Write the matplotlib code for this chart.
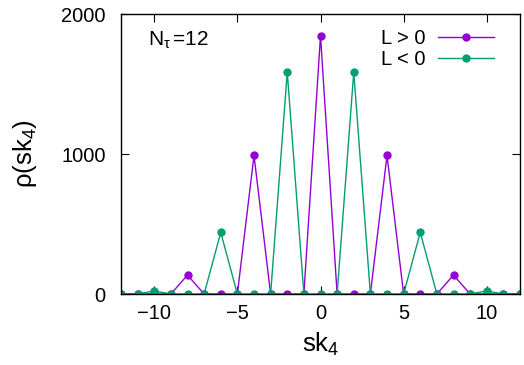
import matplotlib
matplotlib.use('Agg')
import matplotlib.pyplot as plt

plt.rcParams['font.family'] = ['Liberation Sans', 'DejaVu Sans']
plt.rcParams['mathtext.fontset'] = 'custom'
plt.rcParams['mathtext.rm'] = 'Liberation Sans'
plt.rcParams['mathtext.it'] = 'Liberation Sans'

# sk_4 bins and histogram counts for both signs of L
sk4 = list(range(-12, 13))
rho_pos = [0, 0, 0, 0, 135, 0, 0, 0, 990, 0, 0, 0, 1845,
           0, 0, 0, 990, 0, 0, 0, 135, 0, 0, 0, 0]
rho_neg = [0, 0, 22, 0, 0, 0, 440, 0, 0, 0, 1585, 0, 0,
           0, 1585, 0, 0, 0, 440, 0, 0, 0, 22, 0, 0]

purple = '#9400d3'
green = '#009e73'

fig = plt.figure(figsize=(5.24, 3.65), dpi=100)
ax = fig.add_axes([121 / 524, 1 - 294 / 365, 399 / 524, 280 / 365])

ax.plot(sk4, rho_pos, color=purple, lw=1, marker='o', ms=5, label='L > 0')
ax.plot(sk4, rho_neg, color=green, lw=1, marker='o', ms=5, label='L < 0')

ax.set_xlim(-12, 12)
ax.set_ylim(0, 2000)
ax.set_xticks([-10, -5, 0, 5, 10])
ax.set_yticks([0, 1000, 2000])
ax.tick_params(direction='in', top=True, right=True, labelsize=14.5, length=6)
ax.tick_params(axis='x', pad=7.5)
ax.tick_params(axis='y', pad=11)
for s in ax.spines.values():
    s.set_linewidth(1)

ax.set_xlabel(r'sk$_4$', fontsize=18.5, labelpad=5)
ax.set_ylabel(r'ρ(sk$_4$)', fontsize=18.5, labelpad=16)

ax.text(148 / 524, 1 - 40 / 365, r'N$_\tau\,$=12', transform=fig.transFigure,
        fontsize=15, ha='left', va='center')

leg = ax.legend(loc='upper right', bbox_to_anchor=(494 / 524, 1 - 29 / 365),
                bbox_transform=fig.transFigure, frameon=False, fontsize=14.5,
                markerfirst=False, handlelength=2.8, handletextpad=0.6,
                borderpad=0, borderaxespad=0, labelspacing=0.1)

fig.savefig('out.png', dpi=100)
